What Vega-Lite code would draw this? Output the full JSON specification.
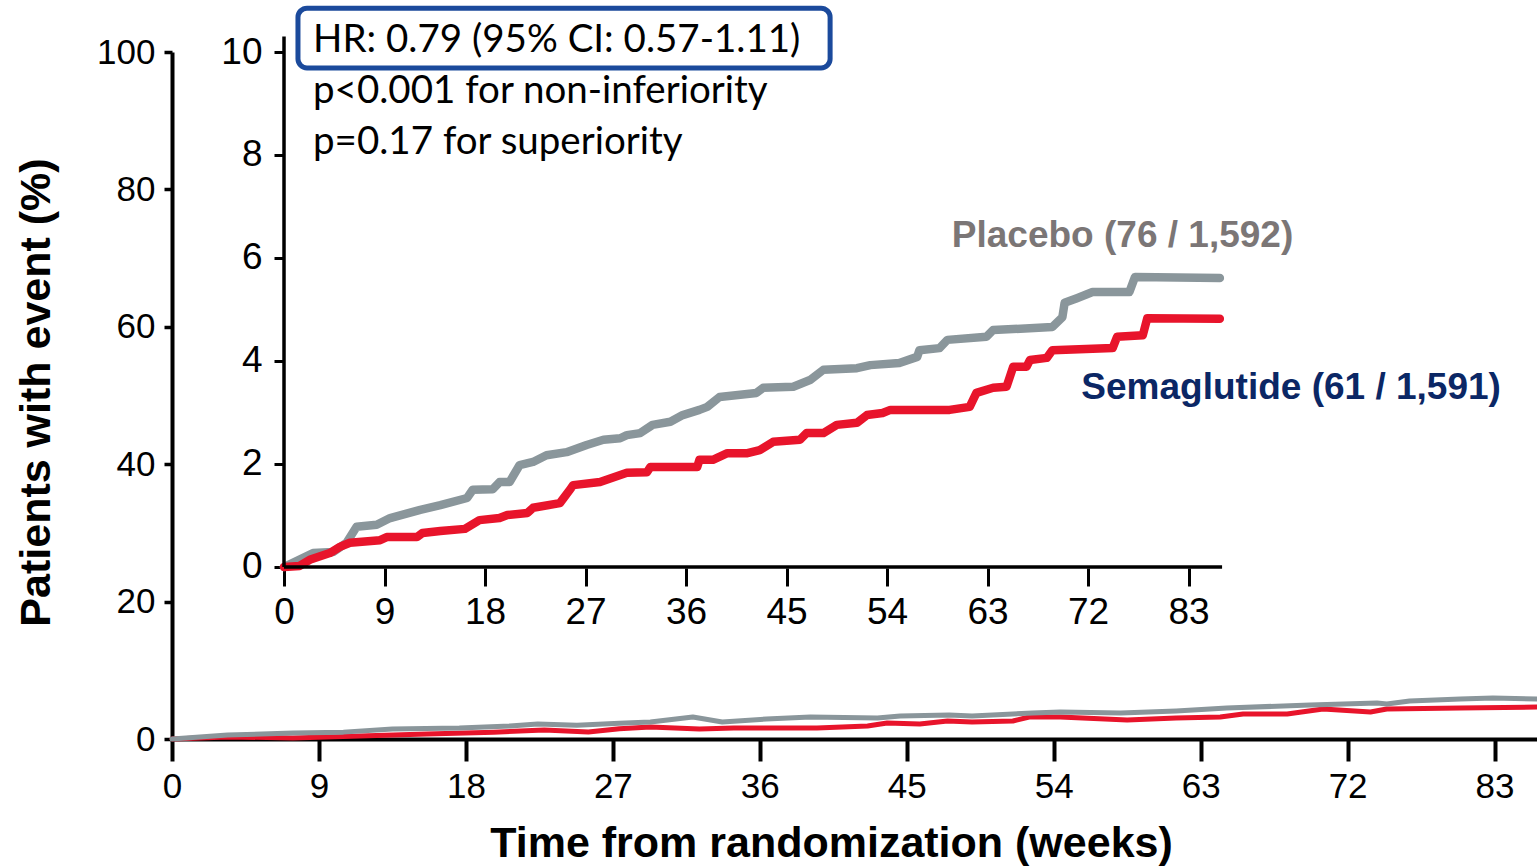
{
  "$schema": "https://vega.github.io/schema/vega-lite/v6.json",
  "width": 1365,
  "height": 687,
  "autosize": {"type": "none"},
  "padding": {"left": 172, "top": 52, "right": 0, "bottom": 127},
  "background": "white",
  "config": {
    "view": {"stroke": null},
    "axis": {
      "grid": false,
      "labelFont": "Liberation Sans",
      "labelFontSize": 35,
      "labelColor": "black",
      "tickColor": "black",
      "domainColor": "black",
      "labelFlush": false,
      "labelOverlap": false,
      "labelBound": false,
      "titleFont": "Liberation Sans",
      "titleFontWeight": "bold",
      "titleColor": "black"
    }
  },
  "datasets": {
    "overall": [
      {"arm": "Semaglutide", "week": 0, "pct": 0},
      {"arm": "Semaglutide", "week": 3.4, "pct": 0.3},
      {"arm": "Semaglutide", "week": 7.4, "pct": 0.15},
      {"arm": "Semaglutide", "week": 11.5, "pct": 0.45},
      {"arm": "Semaglutide", "week": 15.6, "pct": 0.73},
      {"arm": "Semaglutide", "week": 19.7, "pct": 1.0},
      {"arm": "Semaglutide", "week": 22.8, "pct": 1.31},
      {"arm": "Semaglutide", "week": 25.5, "pct": 1.02},
      {"arm": "Semaglutide", "week": 27.4, "pct": 1.5},
      {"arm": "Semaglutide", "week": 29.3, "pct": 1.75},
      {"arm": "Semaglutide", "week": 32.3, "pct": 1.46},
      {"arm": "Semaglutide", "week": 34.4, "pct": 1.6},
      {"arm": "Semaglutide", "week": 39.5, "pct": 1.6},
      {"arm": "Semaglutide", "week": 42.6, "pct": 1.9},
      {"arm": "Semaglutide", "week": 43.8, "pct": 2.33},
      {"arm": "Semaglutide", "week": 45.8, "pct": 2.18},
      {"arm": "Semaglutide", "week": 47.5, "pct": 2.62},
      {"arm": "Semaglutide", "week": 49.0, "pct": 2.47},
      {"arm": "Semaglutide", "week": 51.5, "pct": 2.62},
      {"arm": "Semaglutide", "week": 52.5, "pct": 3.2},
      {"arm": "Semaglutide", "week": 54.4, "pct": 3.2},
      {"arm": "Semaglutide", "week": 58.5, "pct": 2.77},
      {"arm": "Semaglutide", "week": 61.5, "pct": 3.06},
      {"arm": "Semaglutide", "week": 64.2, "pct": 3.2},
      {"arm": "Semaglutide", "week": 65.6, "pct": 3.64},
      {"arm": "Semaglutide", "week": 68.3, "pct": 3.64},
      {"arm": "Semaglutide", "week": 70.5, "pct": 4.37},
      {"arm": "Semaglutide", "week": 73.4, "pct": 3.93},
      {"arm": "Semaglutide", "week": 74.4, "pct": 4.37},
      {"arm": "Semaglutide", "week": 78.9, "pct": 4.51},
      {"arm": "Semaglutide", "week": 83.6, "pct": 4.66},
      {"arm": "Placebo", "week": 0, "pct": 0},
      {"arm": "Placebo", "week": 3.4, "pct": 0.58},
      {"arm": "Placebo", "week": 7.4, "pct": 0.87},
      {"arm": "Placebo", "week": 10.5, "pct": 1.0},
      {"arm": "Placebo", "week": 13.5, "pct": 1.46},
      {"arm": "Placebo", "week": 17.6, "pct": 1.6},
      {"arm": "Placebo", "week": 20.7, "pct": 1.9},
      {"arm": "Placebo", "week": 22.4, "pct": 2.2},
      {"arm": "Placebo", "week": 24.8, "pct": 2.0},
      {"arm": "Placebo", "week": 27.4, "pct": 2.3},
      {"arm": "Placebo", "week": 29.3, "pct": 2.47},
      {"arm": "Placebo", "week": 31.9, "pct": 3.2},
      {"arm": "Placebo", "week": 33.7, "pct": 2.47},
      {"arm": "Placebo", "week": 36.4, "pct": 2.9},
      {"arm": "Placebo", "week": 39.1, "pct": 3.2},
      {"arm": "Placebo", "week": 43.2, "pct": 3.06},
      {"arm": "Placebo", "week": 44.6, "pct": 3.35},
      {"arm": "Placebo", "week": 47.6, "pct": 3.5},
      {"arm": "Placebo", "week": 49.0, "pct": 3.35},
      {"arm": "Placebo", "week": 52.7, "pct": 3.78},
      {"arm": "Placebo", "week": 54.4, "pct": 3.93},
      {"arm": "Placebo", "week": 58.1, "pct": 3.78},
      {"arm": "Placebo", "week": 61.5, "pct": 4.08},
      {"arm": "Placebo", "week": 64.6, "pct": 4.51},
      {"arm": "Placebo", "week": 69.7, "pct": 4.95},
      {"arm": "Placebo", "week": 73.8, "pct": 5.24},
      {"arm": "Placebo", "week": 74.4, "pct": 5.09},
      {"arm": "Placebo", "week": 75.8, "pct": 5.53},
      {"arm": "Placebo", "week": 78.9, "pct": 5.82},
      {"arm": "Placebo", "week": 80.9, "pct": 5.97},
      {"arm": "Placebo", "week": 83.6, "pct": 5.82}
    ],
    "zoomed": [
      {"arm": "Placebo", "week": 0, "pct": 0},
      {"arm": "Placebo", "week": 2.6, "pct": 0.27},
      {"arm": "Placebo", "week": 4.4, "pct": 0.29},
      {"arm": "Placebo", "week": 5.6, "pct": 0.47},
      {"arm": "Placebo", "week": 6.5, "pct": 0.78},
      {"arm": "Placebo", "week": 8.3, "pct": 0.82},
      {"arm": "Placebo", "week": 9.5, "pct": 0.95},
      {"arm": "Placebo", "week": 12.2, "pct": 1.11},
      {"arm": "Placebo", "week": 14.0, "pct": 1.2},
      {"arm": "Placebo", "week": 16.4, "pct": 1.34},
      {"arm": "Placebo", "week": 16.9, "pct": 1.5},
      {"arm": "Placebo", "week": 18.7, "pct": 1.51},
      {"arm": "Placebo", "week": 19.3, "pct": 1.65},
      {"arm": "Placebo", "week": 20.2, "pct": 1.65},
      {"arm": "Placebo", "week": 21.1, "pct": 1.98},
      {"arm": "Placebo", "week": 22.3, "pct": 2.04},
      {"arm": "Placebo", "week": 23.5, "pct": 2.17},
      {"arm": "Placebo", "week": 25.3, "pct": 2.23},
      {"arm": "Placebo", "week": 27.1, "pct": 2.37},
      {"arm": "Placebo", "week": 28.6, "pct": 2.47},
      {"arm": "Placebo", "week": 30.1, "pct": 2.5},
      {"arm": "Placebo", "week": 30.7, "pct": 2.56},
      {"arm": "Placebo", "week": 31.9, "pct": 2.6},
      {"arm": "Placebo", "week": 33.0, "pct": 2.76},
      {"arm": "Placebo", "week": 34.6, "pct": 2.82},
      {"arm": "Placebo", "week": 35.7, "pct": 2.95},
      {"arm": "Placebo", "week": 37.2, "pct": 3.05},
      {"arm": "Placebo", "week": 37.9, "pct": 3.11},
      {"arm": "Placebo", "week": 39.0, "pct": 3.3},
      {"arm": "Placebo", "week": 42.3, "pct": 3.38},
      {"arm": "Placebo", "week": 42.9, "pct": 3.48},
      {"arm": "Placebo", "week": 45.6, "pct": 3.5},
      {"arm": "Placebo", "week": 47.1, "pct": 3.63},
      {"arm": "Placebo", "week": 48.3, "pct": 3.83},
      {"arm": "Placebo", "week": 51.3, "pct": 3.86},
      {"arm": "Placebo", "week": 52.5, "pct": 3.92},
      {"arm": "Placebo", "week": 55.1, "pct": 3.96},
      {"arm": "Placebo", "week": 56.7, "pct": 4.08},
      {"arm": "Placebo", "week": 56.9, "pct": 4.21},
      {"arm": "Placebo", "week": 58.7, "pct": 4.25},
      {"arm": "Placebo", "week": 59.4, "pct": 4.41},
      {"arm": "Placebo", "week": 62.9, "pct": 4.47},
      {"arm": "Placebo", "week": 63.5, "pct": 4.6},
      {"arm": "Placebo", "week": 68.8, "pct": 4.66},
      {"arm": "Placebo", "week": 69.7, "pct": 4.85},
      {"arm": "Placebo", "week": 69.9, "pct": 5.13},
      {"arm": "Placebo", "week": 71.0, "pct": 5.22},
      {"arm": "Placebo", "week": 72.4, "pct": 5.34},
      {"arm": "Placebo", "week": 75.7, "pct": 5.34},
      {"arm": "Placebo", "week": 76.2, "pct": 5.63},
      {"arm": "Placebo", "week": 83.8, "pct": 5.61},
      {"arm": "Semaglutide", "week": 0, "pct": 0},
      {"arm": "Semaglutide", "week": 1.4, "pct": 0.02},
      {"arm": "Semaglutide", "week": 2.3, "pct": 0.14},
      {"arm": "Semaglutide", "week": 4.1, "pct": 0.27},
      {"arm": "Semaglutide", "week": 5.0, "pct": 0.39},
      {"arm": "Semaglutide", "week": 5.9, "pct": 0.47},
      {"arm": "Semaglutide", "week": 8.6, "pct": 0.52},
      {"arm": "Semaglutide", "week": 9.2, "pct": 0.58},
      {"arm": "Semaglutide", "week": 11.9, "pct": 0.58},
      {"arm": "Semaglutide", "week": 12.4, "pct": 0.66},
      {"arm": "Semaglutide", "week": 14.0, "pct": 0.7},
      {"arm": "Semaglutide", "week": 16.2, "pct": 0.74},
      {"arm": "Semaglutide", "week": 17.5, "pct": 0.91},
      {"arm": "Semaglutide", "week": 19.3, "pct": 0.95},
      {"arm": "Semaglutide", "week": 20.0, "pct": 1.01},
      {"arm": "Semaglutide", "week": 21.8, "pct": 1.05},
      {"arm": "Semaglutide", "week": 22.3, "pct": 1.15},
      {"arm": "Semaglutide", "week": 24.7, "pct": 1.24},
      {"arm": "Semaglutide", "week": 25.6, "pct": 1.5},
      {"arm": "Semaglutide", "week": 25.9, "pct": 1.59},
      {"arm": "Semaglutide", "week": 28.3, "pct": 1.65},
      {"arm": "Semaglutide", "week": 30.7, "pct": 1.83},
      {"arm": "Semaglutide", "week": 32.5, "pct": 1.84},
      {"arm": "Semaglutide", "week": 32.8, "pct": 1.94},
      {"arm": "Semaglutide", "week": 37.0, "pct": 1.94},
      {"arm": "Semaglutide", "week": 37.2, "pct": 2.08},
      {"arm": "Semaglutide", "week": 38.4, "pct": 2.08},
      {"arm": "Semaglutide", "week": 39.7, "pct": 2.21},
      {"arm": "Semaglutide", "week": 41.5, "pct": 2.21},
      {"arm": "Semaglutide", "week": 42.6, "pct": 2.27},
      {"arm": "Semaglutide", "week": 43.8, "pct": 2.43},
      {"arm": "Semaglutide", "week": 46.2, "pct": 2.47},
      {"arm": "Semaglutide", "week": 46.8, "pct": 2.6},
      {"arm": "Semaglutide", "week": 48.3, "pct": 2.6},
      {"arm": "Semaglutide", "week": 49.5, "pct": 2.76},
      {"arm": "Semaglutide", "week": 51.3, "pct": 2.8},
      {"arm": "Semaglutide", "week": 52.2, "pct": 2.95},
      {"arm": "Semaglutide", "week": 53.6, "pct": 2.99},
      {"arm": "Semaglutide", "week": 54.3, "pct": 3.05},
      {"arm": "Semaglutide", "week": 59.6, "pct": 3.05},
      {"arm": "Semaglutide", "week": 61.4, "pct": 3.11},
      {"arm": "Semaglutide", "week": 62.0, "pct": 3.38},
      {"arm": "Semaglutide", "week": 63.5, "pct": 3.48},
      {"arm": "Semaglutide", "week": 64.7, "pct": 3.5},
      {"arm": "Semaglutide", "week": 65.3, "pct": 3.89},
      {"arm": "Semaglutide", "week": 66.5, "pct": 3.89},
      {"arm": "Semaglutide", "week": 66.8, "pct": 4.02},
      {"arm": "Semaglutide", "week": 68.3, "pct": 4.06},
      {"arm": "Semaglutide", "week": 68.8, "pct": 4.21},
      {"arm": "Semaglutide", "week": 74.2, "pct": 4.25},
      {"arm": "Semaglutide", "week": 74.6, "pct": 4.47},
      {"arm": "Semaglutide", "week": 76.9, "pct": 4.5},
      {"arm": "Semaglutide", "week": 77.3, "pct": 4.83},
      {"arm": "Semaglutide", "week": 83.8, "pct": 4.82}
    ],
    "zoomFrame": [
      {"week": 0, "week2": 84, "pct": 0, "pct2": 0},
      {"week": 0, "week2": 0, "pct": 0, "pct2": 10.3}
    ],
    "statsBox": [
      {"week": 1.25, "week2": 48.9, "pct": 10.85, "pct2": 9.69}
    ],
    "stats": [
      {"text": "HR: 0.79 (95% CI: 0.57-1.11)", "week": 2.6, "pct": 10.23},
      {"text": "p<0.001 for non-inferiority", "week": 2.6, "pct": 9.24},
      {"text": "p=0.17 for superiority", "week": 2.6, "pct": 8.25}
    ],
    "armLabels": [
      {"arm": "Placebo", "text": "Placebo (76 / 1,592)", "week": 59.8, "pct": 6.43},
      {"arm": "Semaglutide", "text": "Semaglutide (61 / 1,591)", "week": 71.4, "pct": 3.48}
    ]
  },
  "layer": [
    {
      "data": {"name": "overall"},
      "encoding": {
        "x": {
          "field": "week",
          "type": "quantitative",
          "scale": {"domain": [0, 83.6], "nice": false, "zero": false},
          "axis": {
            "orient": "bottom",
            "values": [0, 9, 18, 27, 36, 45, 54, 63, 72, 81],
            "labelExpr": "datum.value == 81 ? '83' : datum.label",
            "tickSize": 22,
            "tickWidth": 4,
            "domainWidth": 4,
            "labelPadding": 8,
            "title": "Time from randomization (weeks)",
            "titleFontSize": 43,
            "titleX": 659,
            "titleY": 117,
            "titleBaseline": "alphabetic"
          }
        },
        "y": {
          "field": "pct",
          "type": "quantitative",
          "scale": {"domain": [0, 100], "nice": false},
          "axis": {
            "orient": "left",
            "values": [0, 20, 40, 60, 80, 100],
            "tickSize": 8,
            "tickWidth": 3.5,
            "domainWidth": 4,
            "labelPadding": 9,
            "title": "Patients with event (%)",
            "titleFontSize": 43,
            "titleX": -136,
            "titleY": 340,
            "titleBaseline": "middle"
          }
        }
      },
      "layer": [
        {
          "transform": [{"filter": "datum.arm == 'Semaglutide'"}],
          "mark": {"type": "line", "color": "#E8142B", "strokeWidth": 5, "strokeCap": "round", "strokeJoin": "round"}
        },
        {
          "transform": [{"filter": "datum.arm == 'Placebo'"}],
          "mark": {"type": "line", "color": "#8A969B", "strokeWidth": 5, "strokeCap": "round", "strokeJoin": "round"}
        }
      ]
    },
    {
      "encoding": {
        "x": {
          "field": "week",
          "type": "quantitative",
          "scale": {"domain": [-10.03, 112.2], "nice": false, "zero": false},
          "axis": {
            "orient": "bottom",
            "offset": -171,
            "domain": false,
            "values": [0, 9, 18, 27, 36, 45, 54, 63, 72, 81],
            "labelExpr": "datum.value == 81 ? '83' : datum.label",
            "labelFontSize": 37,
            "tickSize": 18,
            "tickWidth": 3,
            "labelPadding": 8,
            "title": null
          }
        },
        "y": {
          "field": "pct",
          "type": "quantitative",
          "scale": {"domain": [-3.34, 10], "nice": false, "zero": false},
          "axis": {
            "orient": "left",
            "offset": -112,
            "domain": false,
            "values": [0, 2, 4, 6, 8, 10],
            "labelFontSize": 37,
            "tickSize": 10,
            "tickWidth": 3,
            "labelPadding": 12,
            "title": null
          }
        }
      },
      "layer": [
        {
          "data": {"name": "zoomed"},
          "transform": [{"filter": "datum.arm == 'Placebo'"}],
          "mark": {"type": "line", "color": "#8A969B", "strokeWidth": 8.5, "strokeCap": "round", "strokeJoin": "round"}
        },
        {
          "data": {"name": "zoomed"},
          "transform": [{"filter": "datum.arm == 'Semaglutide'"}],
          "mark": {"type": "line", "color": "#E8142B", "strokeWidth": 8.5, "strokeCap": "round", "strokeJoin": "round"}
        },
        {
          "data": {"name": "zoomFrame"},
          "mark": {"type": "rule", "color": "black", "strokeWidth": 3.5},
          "encoding": {
            "x2": {"field": "week2"},
            "y2": {"field": "pct2"}
          }
        },
        {
          "data": {"name": "statsBox"},
          "mark": {"type": "rect", "fill": "white", "stroke": "#1B4A9C", "strokeWidth": 5, "cornerRadius": 9},
          "encoding": {
            "x2": {"field": "week2"},
            "y2": {"field": "pct2"}
          }
        },
        {
          "data": {"name": "stats"},
          "mark": {"type": "text", "align": "left", "baseline": "middle", "font": "Lato", "fontSize": 38.5, "color": "black"},
          "encoding": {"text": {"field": "text"}}
        },
        {
          "data": {"name": "armLabels"},
          "transform": [{"filter": "datum.arm == 'Placebo'"}],
          "mark": {"type": "text", "align": "left", "baseline": "middle", "font": "Liberation Sans", "fontWeight": "bold", "fontSize": 37, "color": "#7B7676"},
          "encoding": {"text": {"field": "text"}}
        },
        {
          "data": {"name": "armLabels"},
          "transform": [{"filter": "datum.arm == 'Semaglutide'"}],
          "mark": {"type": "text", "align": "left", "baseline": "middle", "font": "Liberation Sans", "fontWeight": "bold", "fontSize": 37, "color": "#0B2765"},
          "encoding": {"text": {"field": "text"}}
        }
      ]
    }
  ],
  "resolve": {
    "scale": {"x": "independent", "y": "independent"},
    "axis": {"x": "independent", "y": "independent"}
  }
}
